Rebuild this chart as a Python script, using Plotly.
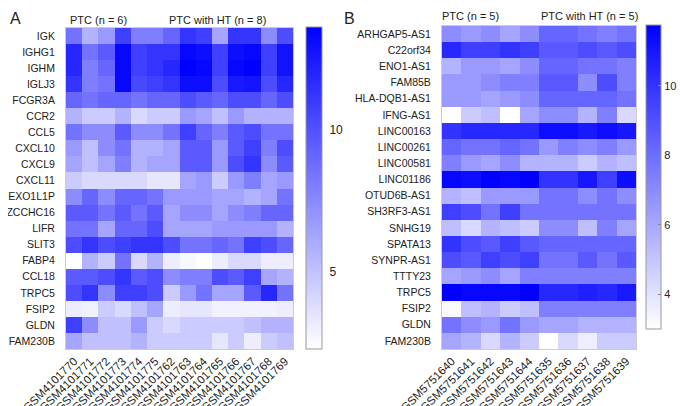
import plotly.graph_objects as go

# ---- panel A data ----
samples_a = ["GSM4101770", "GSM4101771", "GSM4101772", "GSM4101773", "GSM4101774",
             "GSM4101775", "GSM4101762", "GSM4101763", "GSM4101764", "GSM4101765",
             "GSM4101766", "GSM4101767", "GSM4101768", "GSM4101769"]
genes_a = ["IGK", "IGHG1", "IGHM", "IGLJ3", "FCGR3A", "CCR2", "CCL5", "CXCL10", "CXCL9",
           "CXCL11", "REXO1L1P", "ZCCHC16", "LIFR", "SLIT3", "FABP4", "CCL18", "TRPC5",
           "FSIP2", "GLDN", "FAM230B"]
expr_a = [
    [8.5, 5.7, 6.8, 10.8, 8.0, 8.0, 9.1, 11.3, 10.8, 6.3, 11.3, 11.3, 7.4, 10.2],
    [11.9, 8.5, 9.6, 13.3, 10.8, 11.3, 11.3, 13.3, 13.0, 10.8, 13.0, 13.3, 10.8, 12.8],
    [11.9, 8.0, 9.1, 13.3, 10.8, 11.3, 11.9, 13.6, 13.3, 10.8, 13.3, 13.6, 10.8, 12.8],
    [11.3, 8.0, 8.5, 13.3, 10.4, 10.8, 11.3, 13.0, 13.0, 10.2, 12.5, 12.7, 10.2, 11.9],
    [9.1, 8.5, 9.1, 9.1, 8.5, 9.1, 9.1, 10.2, 9.6, 9.1, 10.2, 10.2, 9.1, 10.2],
    [5.7, 4.6, 4.6, 5.7, 4.0, 4.6, 4.6, 6.8, 6.3, 5.1, 6.8, 5.7, 5.7, 5.7],
    [8.5, 7.4, 7.4, 9.6, 7.4, 7.4, 8.5, 10.8, 9.1, 8.0, 9.6, 10.2, 8.5, 8.5],
    [6.8, 5.1, 7.4, 8.5, 5.7, 5.7, 6.3, 9.6, 9.6, 6.8, 9.6, 10.8, 8.0, 10.2],
    [6.3, 5.1, 6.3, 8.0, 5.7, 6.3, 6.3, 9.6, 9.6, 6.8, 10.2, 11.3, 7.4, 9.6],
    [4.6, 4.0, 4.0, 4.0, 4.0, 3.4, 3.4, 6.3, 6.8, 4.6, 6.8, 8.0, 6.3, 6.8],
    [7.4, 9.1, 7.4, 9.1, 9.1, 8.5, 6.8, 6.8, 6.8, 6.3, 6.3, 5.7, 6.3, 8.5],
    [9.6, 9.6, 8.5, 9.6, 8.5, 9.6, 6.3, 7.4, 7.4, 6.3, 7.4, 8.0, 9.1, 9.1],
    [8.5, 8.5, 6.3, 9.1, 9.1, 10.2, 6.3, 6.3, 6.3, 6.8, 6.8, 6.8, 6.8, 5.7],
    [10.2, 11.3, 10.2, 10.8, 11.3, 11.3, 10.2, 8.5, 8.5, 9.1, 8.5, 10.8, 10.2, 9.1],
    [2.3, 5.7, 4.6, 8.5, 4.0, 5.7, 3.1, 2.6, 2.3, 3.1, 4.0, 4.0, 3.1, 3.1],
    [9.6, 9.6, 10.2, 11.3, 9.6, 10.2, 7.4, 8.0, 8.0, 10.2, 9.6, 10.8, 6.3, 5.7],
    [10.2, 11.3, 7.4, 10.8, 10.8, 10.2, 4.6, 6.8, 8.5, 6.3, 6.3, 9.6, 11.9, 8.5],
    [3.1, 2.9, 4.6, 4.0, 5.1, 6.3, 3.1, 3.4, 3.4, 2.9, 2.9, 2.9, 2.9, 3.1],
    [10.8, 7.4, 5.1, 5.1, 6.8, 4.6, 4.0, 4.6, 4.6, 4.6, 4.6, 5.1, 5.7, 5.7],
    [6.3, 5.1, 5.1, 5.1, 5.7, 4.6, 4.6, 4.6, 4.6, 3.4, 4.6, 3.1, 4.6, 5.1],
]

# ---- panel B data ----
samples_b = ["GSM5751640", "GSM5751641", "GSM5751642", "GSM5751643", "GSM5751644",
             "GSM5751635", "GSM5751636", "GSM5751637", "GSM5751638", "GSM5751639"]
genes_b = ["ARHGAP5-AS1", "C22orf34", "ENO1-AS1", "FAM85B", "HLA-DQB1-AS1", "IFNG-AS1",
           "LINC00163", "LINC00261", "LINC00581", "LINC01186", "OTUD6B-AS1", "SH3RF3-AS1",
           "SNHG19", "SPATA13", "SYNPR-AS1", "TTTY23", "TRPC5", "FSIP2", "GLDN", "FAM230B"]
expr_b = [
    [6.9, 6.5, 6.9, 6.1, 6.9, 8.3, 8.3, 7.8, 7.4, 7.8],
    [10.4, 9.6, 9.6, 10.0, 9.6, 8.7, 8.7, 9.1, 8.7, 9.1],
    [5.6, 6.5, 6.5, 6.1, 6.9, 8.3, 8.3, 7.8, 7.8, 7.4],
    [6.5, 6.5, 6.9, 7.4, 7.4, 8.7, 8.7, 6.9, 9.1, 7.4],
    [6.5, 6.5, 6.1, 6.5, 6.9, 8.3, 8.3, 8.3, 8.3, 7.8],
    [3.0, 4.8, 5.2, 3.0, 6.1, 6.9, 6.9, 5.6, 7.4, 4.3],
    [10.0, 10.4, 10.4, 10.4, 10.4, 11.3, 11.3, 10.9, 11.3, 11.0],
    [8.3, 7.8, 7.8, 8.3, 7.8, 6.5, 7.4, 6.9, 7.4, 6.5],
    [7.4, 6.5, 6.1, 6.9, 5.6, 5.6, 5.6, 4.8, 5.6, 5.2],
    [11.5, 11.3, 11.75, 11.5, 11.75, 10.0, 10.0, 11.0, 9.6, 11.3],
    [5.6, 5.2, 6.5, 6.5, 6.5, 7.8, 7.8, 6.9, 7.8, 6.9],
    [9.6, 9.1, 7.8, 9.6, 7.8, 7.8, 7.8, 7.8, 7.8, 7.8],
    [5.2, 4.3, 5.6, 5.2, 4.8, 6.9, 6.9, 5.2, 7.4, 6.1],
    [10.0, 9.1, 8.7, 9.6, 8.7, 8.3, 8.3, 8.3, 8.3, 8.3],
    [9.1, 8.7, 9.6, 9.1, 9.6, 7.8, 7.8, 8.7, 7.8, 8.7],
    [6.1, 6.5, 6.9, 6.1, 7.4, 7.4, 7.4, 7.4, 7.4, 7.4],
    [11.75, 11.5, 11.5, 11.5, 11.75, 10.4, 10.4, 10.7, 10.4, 10.9],
    [3.2, 5.2, 5.6, 4.8, 5.2, 7.4, 7.4, 7.4, 7.4, 7.4],
    [7.8, 6.9, 6.5, 7.8, 6.5, 6.1, 6.1, 5.6, 5.6, 5.6],
    [6.1, 5.6, 4.3, 5.6, 4.8, 3.0, 4.3, 3.6, 4.8, 4.8],
]

# page body has an 8px margin: positions below are given in window pixels
OFF = 8
W, H = 685 - OFF, 406 - OFF
blues = [[0, "rgb(255,255,255)"], [1, "rgb(0,0,255)"]]
font = dict(family="Liberation Sans, Arial", size=10.5, color="#222")

def px(x):
    return max(x - OFF, 0) / W

def py(y):
    return 1 - max(y - OFF, 0) / H

fig = go.Figure()

fig.add_trace(go.Heatmap(
    z=expr_a, x=samples_a, y=genes_a, xaxis="x", yaxis="y",
    colorscale=blues, zmin=2.3, zmax=13.6,
    colorbar=dict(x=px(306), xanchor="left", y=py(188), yanchor="middle",
                  lenmode="pixels", len=322, thicknessmode="pixels", thickness=16,
                  outlinecolor="#999", outlinewidth=1, tickvals=[5, 10],
                  ticks="outside", ticklen=5, tickcolor="rgba(0,0,0,0)",
                  tickfont=dict(family="Liberation Sans, Arial", size=12, color="#222"),
                  xpad=0, ypad=0),
))

fig.add_trace(go.Heatmap(
    z=expr_b, x=samples_b, y=genes_b, xaxis="x2", yaxis="y2",
    colorscale=blues, zmin=3.0, zmax=11.75,
    colorbar=dict(x=px(646), xanchor="left", y=py(177), yanchor="middle",
                  lenmode="pixels", len=304, thicknessmode="pixels", thickness=15,
                  outlinecolor="#999", outlinewidth=1, tickvals=[4, 6, 8, 10],
                  ticks="inside", ticklen=3, tickcolor="#888",
                  tickfont=dict(family="Liberation Sans, Arial", size=11, color="#222"),
                  xpad=0, ypad=0),
))

xax = dict(tickangle=-45, tickfont=dict(size=11.5), showline=True, mirror=True,
           linecolor="#ccc", linewidth=1, ticks="", showgrid=False, zeroline=False,
           automargin=False)
yax = dict(autorange="reversed", showline=True, mirror=True, linecolor="#ccc",
           linewidth=1, ticks="", ticklabelstandoff=8, showgrid=False, zeroline=False,
           automargin=False)

fig.update_layout(
    width=W, height=H,
    margin=dict(l=0, r=0, t=0, b=0, autoexpand=False),
    paper_bgcolor="white", plot_bgcolor="white",
    font=font,
    xaxis=dict(xax, domain=[px(66), px(293)], anchor="y"),
    yaxis=dict(yax, domain=[py(349), py(28)], anchor="x"),
    xaxis2=dict(xax, domain=[px(442), px(636)], anchor="y2"),
    yaxis2=dict(yax, domain=[py(349), py(26)], anchor="x2"),
    annotations=[
        dict(text="A", x=px(2), y=py(4), xref="paper", yref="paper", xanchor="left",
             yanchor="top", showarrow=False, font=dict(size=16)),
        dict(text="B", x=px(342), y=py(4), xref="paper", yref="paper", xanchor="left",
             yanchor="top", showarrow=False, font=dict(size=16)),
        dict(text="PTC (n = 6)", x=px(68), y=py(20), xref="paper", yref="paper",
             xanchor="left", yanchor="middle", showarrow=False, font=dict(size=11)),
        dict(text="PTC with HT (n = 8)", x=px(167), y=py(20), xref="paper", yref="paper",
             xanchor="left", yanchor="middle", showarrow=False, font=dict(size=11)),
        dict(text="PTC (n = 5)", x=px(440), y=py(16), xref="paper", yref="paper",
             xanchor="left", yanchor="middle", showarrow=False, font=dict(size=11)),
        dict(text="PTC with HT (n = 5)", x=px(539), y=py(16), xref="paper", yref="paper",
             xanchor="left", yanchor="middle", showarrow=False, font=dict(size=11)),
    ],
)

fig.write_html("out.html")
